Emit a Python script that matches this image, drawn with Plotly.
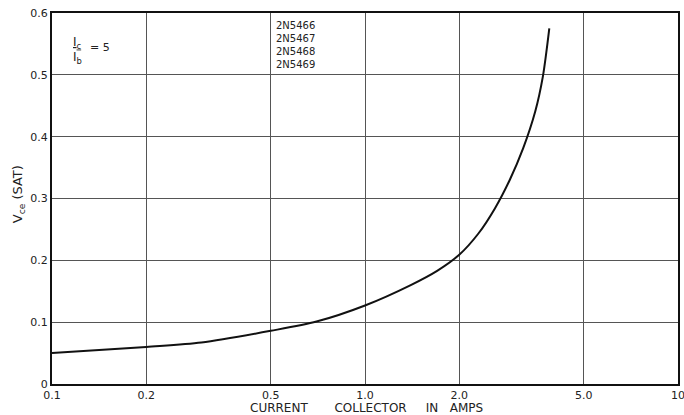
import plotly.graph_objects as go

# Data
collector_current = [0.1, 0.2, 0.3, 0.5, 0.7, 1.0, 1.4, 1.7, 2.0, 2.3, 2.6, 2.9, 3.2, 3.5, 3.7, 3.88]
vce_sat = [0.050, 0.060, 0.067, 0.086, 0.101, 0.127, 0.160, 0.183, 0.209, 0.243, 0.284, 0.330, 0.381, 0.441, 0.497, 0.575]

x_tick_vals = [0.1, 0.2, 0.5, 1.0, 2.0, 5.0, 10]
x_tick_text = ["0.1", "0.2", "0.5", "1.0", "2.0", "5.0", "10"]
y_tick_vals = [0, 0.1, 0.2, 0.3, 0.4, 0.5, 0.6]
y_tick_text = ["0", "0.1", "0.2", "0.3", "0.4", "0.5", "0.6"]
device_types = ["2N5466", "2N5467", "2N5468", "2N5469"]

FONT = "DejaVu Sans"
TXT = "#222"

fig = go.Figure()
fig.add_trace(go.Scatter(
    x=collector_current, y=vce_sat, mode="lines",
    line=dict(color="#111", width=2, shape="spline", smoothing=0.8),
    hoverinfo="skip", showlegend=False,
))

fig.update_layout(
    width=684, height=415,
    margin=dict(l=52, r=6, t=13, b=31),
    paper_bgcolor="white", plot_bgcolor="white",
    font=dict(family=FONT, size=11, color=TXT),
    showlegend=False,
)
fig.update_xaxes(
    type="log", range=[-1, 1], automargin=False,
    tickvals=x_tick_vals, ticktext=x_tick_text,
    showgrid=True, gridcolor="#555", gridwidth=1,
    showline=True, linecolor="#111", linewidth=2, mirror=True,
    ticks="", ticklen=0, tickfont=dict(size=11, color=TXT),
    ticklabeloverflow="allow", zeroline=False,
)
fig.update_yaxes(
    range=[0, 0.6], automargin=False,
    tickvals=y_tick_vals, ticktext=y_tick_text,
    showgrid=True, gridcolor="#555", gridwidth=1,
    showline=True, linecolor="#111", linewidth=2, mirror=True,
    ticks="", ticklen=0, tickfont=dict(size=11, color=TXT),
    ticklabeloverflow="allow", zeroline=False,
)

nb = "&nbsp;"
annotations = [
    dict(text="CURRENT" + nb * 7 + "COLLECTOR" + nb * 5 + "IN" + nb * 3 + "AMPS",
         xref="paper", yref="paper", x=0.503, y=-0.064, xanchor="center", yanchor="middle",
         showarrow=False, font=dict(size=12, color=TXT)),
    dict(text="V<sub>ce</sub> (SAT)", xref="paper", yref="paper", x=-0.054, y=0.512,
         xanchor="center", yanchor="middle", textangle=-90, showarrow=False,
         font=dict(size=13, color=TXT)),
    dict(text="<u>I<sub>c</sub></u>", xref="paper", yref="paper", x=0.04, y=0.918,
         xanchor="center", yanchor="middle", showarrow=False, font=dict(size=12, color=TXT)),
    dict(text="I<sub>b</sub>", xref="paper", yref="paper", x=0.04, y=0.878,
         xanchor="center", yanchor="middle", showarrow=False, font=dict(size=12, color=TXT)),
    dict(text="= 5", xref="paper", yref="paper", x=0.076, y=0.907,
         xanchor="center", yanchor="middle", showarrow=False, font=dict(size=11, color=TXT)),
    dict(text="<br>".join(device_types), xref="paper", yref="paper", x=0.357, y=0.985,
         xanchor="left", yanchor="top", align="left", showarrow=False, borderpad=0,
         font=dict(size=10, color=TXT)),
]
fig.update_layout(annotations=annotations)

fig.write_html("out.html", post_script="document.body.style.margin='0';",
               config={"displayModeBar": False})
